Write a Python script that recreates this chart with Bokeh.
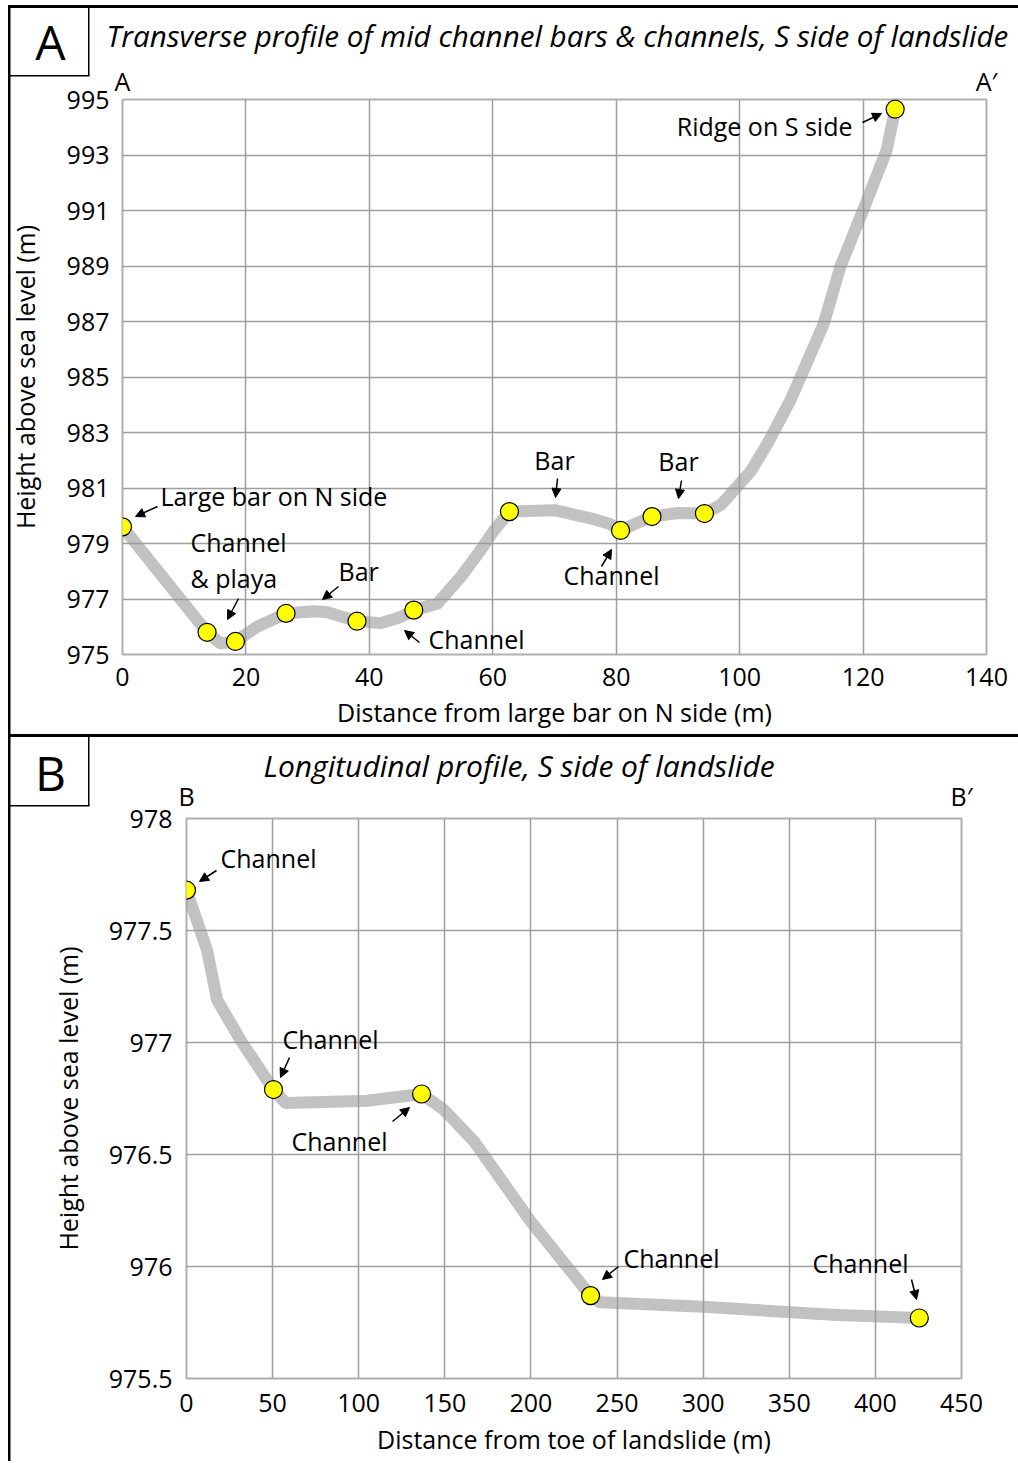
from bokeh.plotting import figure
from bokeh.models import (Label, Arrow, NormalHead, FixedTicker, Range1d, LinearAxis)
from bokeh.embed import file_html
from bokeh.resources import INLINE

FONT = "Open Sans"

# ---------------- data: panel A (transverse profile) ----------------
a_pt_x = [0, 13.7, 18.3, 26.5, 38.0, 47.2, 62.7, 80.7, 85.8, 94.3, 125.2]
a_pt_y = [979.6, 975.8, 975.47, 976.48, 976.2, 976.6, 980.15, 979.47, 979.97, 980.08, 994.65]
a_line_x = [0, 13.7, 15.9, 18.3, 21.8, 26.5, 31.0, 33.2, 38.0, 41.8, 45.0, 47.2, 51.0, 54.8,
            58.0, 60.2, 62.7, 70.0, 76.0, 79.0, 80.7, 83.0, 85.8, 90.0, 94.3, 97.0, 101.8,
            104.5, 108.2, 113.6, 116.3, 120.1, 123.8, 125.2]
a_line_y = [979.6, 975.8, 975.4, 975.47, 976.0, 976.48, 976.56, 976.52, 976.2, 976.13, 976.34,
            976.6, 976.83, 977.79, 978.75, 979.47, 980.15, 980.2, 979.9, 979.7, 979.47, 979.7,
            979.97, 980.1, 980.08, 980.4, 981.6, 982.6, 984.15, 986.9, 988.96, 991.06, 993.16, 994.65]
a_x_ticks = [0, 20, 40, 60, 80, 100, 120, 140]
a_y_ticks = [975, 977, 979, 981, 983, 985, 987, 989, 991, 993, 995]
a_y_labels = ["975", "977", "979", "981", "983", "985", "987", "989", "991", "993", "995"]
a_end_ticks = [0, 140]
a_end_labels = ["A", "A\u2032"]

# ---------------- data: panel B (longitudinal profile) ----------------
b_pt_x = [0, 50.5, 136.5, 234.6, 425.5]
b_pt_y = [977.68, 976.79, 976.77, 975.87, 975.77]
b_line_x = [0, 12.0, 17.8, 31.4, 50.5, 57.5, 104.9, 136.5, 149.4, 166.8, 200.0, 234.6,
            240.0, 300.0, 375.0, 425.5]
b_line_y = [977.68, 977.41, 977.19, 977.01, 976.79, 976.73, 976.74, 976.77, 976.70, 976.56,
            976.2, 975.87, 975.84, 975.82, 975.785, 975.77]
b_x_ticks = [0, 50, 100, 150, 200, 250, 300, 350, 400, 450]
b_y_ticks = [975.5, 976.0, 976.5, 977.0, 977.5, 978.0]
b_y_labels = ["975.5", "976", "976.5", "977", "977.5", "978"]
b_end_ticks = [0, 450]
b_end_labels = ["B", "B\u2032"]

GRID = "#9e9e9e"
FIG_W = 1018


def style_axis(ax, size="25px"):
    ax.axis_line_color = None
    ax.major_tick_line_color = None
    ax.minor_tick_line_color = None
    ax.major_tick_out = 0
    ax.major_tick_in = 0
    ax.major_label_text_font = FONT
    ax.major_label_text_font_size = size
    ax.major_label_text_color = "black"
    ax.axis_label_text_font = FONT
    ax.axis_label_text_font_size = "25px"
    ax.axis_label_text_font_style = "normal"
    ax.axis_label_text_color = "black"


def css_lines(rects):
    # rects: (x, y, w, h) black frame strokes drawn behind the transparent canvas
    return ", ".join(f"linear-gradient(#000, #000) {x}px {y}px / {w}px {h}px no-repeat"
                     for x, y, w, h in rects)


def make_fig(xr, yr, fw, fh, left, top, bottom, xt, yt, ylabels, et, elabels, e_stand,
             xlabel, ylabel, ystand, xstand, ylab_stand, xlab_stand, title, t_size, t_off,
             t_stand, frame_rects):
    p = figure(frame_width=fw, frame_height=fh, x_range=Range1d(*xr), y_range=Range1d(*yr),
               min_border_left=left, min_border_right=FIG_W - left - fw, min_border_top=top,
               min_border_bottom=bottom, output_backend="svg", toolbar_location=None,
               styles={"vertical-align": "top", "background": css_lines(frame_rects)})
    p.background_fill_color = "white"
    p.border_fill_color = None
    p.outline_line_color = "#b0b0b0"
    p.outline_line_width = 2
    p.xgrid.ticker = FixedTicker(ticks=xt)
    p.ygrid.ticker = FixedTicker(ticks=yt)
    for g in (p.xgrid, p.ygrid):
        g.grid_line_color = GRID
        g.grid_line_width = 1.5
    p.xaxis.ticker = FixedTicker(ticks=xt)
    p.yaxis.ticker = FixedTicker(ticks=yt)
    p.yaxis.major_label_overrides = {float(v): s for v, s in zip(yt, ylabels)}
    style_axis(p.xaxis[0])
    style_axis(p.yaxis[0])
    p.xaxis.axis_label = xlabel
    p.yaxis.axis_label = ylabel
    p.yaxis.major_label_standoff = ystand
    p.xaxis.major_label_standoff = xstand
    p.yaxis.axis_label_standoff = ylab_stand
    p.xaxis.axis_label_standoff = xlab_stand
    # section end markers (A / A', B / B') as an axis above the frame
    top_ax = LinearAxis(ticker=FixedTicker(ticks=et),
                        major_label_overrides={float(v): s for v, s in zip(et, elabels)})
    style_axis(top_ax)
    top_ax.major_label_standoff = e_stand
    p.add_layout(top_ax, "above")
    p.title.text = title
    p.title.text_font = FONT
    p.title.text_font_size = t_size
    p.title.text_font_style = "italic"
    p.title.text_color = "black"
    p.title.align = "left"
    p.title.offset = t_off
    p.title.standoff = t_stand
    return p


def draw_profile(p, lx, ly, px, py):
    p.line(lx, ly, line_color="#999999", line_alpha=0.6, line_width=12, line_join="round")
    p.scatter(px, py, size=18, fill_color="#ffff00", line_color="black", line_width=1.2)


def converter(ox, oy, left, top, fw, fh, xr, yr):
    def conv(px, py):
        fx = ox + left
        fy = oy + top
        return (xr[0] + (px - fx) / fw * (xr[1] - xr[0]),
                yr[1] - (py - fy) / fh * (yr[1] - yr[0]))
    return conv


def data_label(p, conv, px, py, text, align="left", size="25px", place="center"):
    x, y = conv(px, py)
    p.add_layout(Label(x=x, y=y, text=text, text_font=FONT, text_font_size=size,
                       text_align=align, text_baseline="middle", text_color="black"), place)


def data_arrow(p, conv, sx, sy, ex, ey):
    x0, y0 = conv(sx, sy)
    x1, y1 = conv(ex, ey)
    p.add_layout(Arrow(x_start=x0, y_start=y0, x_end=x1, y_end=y1, line_color="black",
                       line_width=1.5,
                       end=NormalHead(size=9, fill_color="black", line_color="black", line_width=1)))


# ---------------- panel A ----------------
A_OX, A_OY = 0, 0
A_L, A_T, A_FW, A_FH = 122, 99, 864, 555
A_H = 737
A_XR, A_YR = (0, 140), (975, 995)
a_frame = [(8, 5, 1010, 3), (8, 5, 2.5, 732), (8, 734, 1010, 3),
           (88, 5, 1.5, 71), (8, 75, 81.5, 1.5)]
p1 = make_fig(A_XR, A_YR, A_FW, A_FH, A_L, A_T, A_H - A_T - A_FH, a_x_ticks, a_y_ticks,
              a_y_labels, a_end_ticks, a_end_labels, 2,
              "Distance from large bar on N side (m)", "Height above sea level (m)",
              13, 13, 22, 6,
              "Transverse profile of mid channel bars & channels, S side of landslide",
              "29.6px", -16, 10, a_frame)
draw_profile(p1, a_line_x, a_line_y, a_pt_x, a_pt_y)
a_data = converter(A_OX, A_OY, A_L, A_T, A_FW, A_FH, A_XR, A_YR)

a_texts = [
    (160, 495, "Large bar on N side", "left"),
    (190, 541, "Channel", "left"),
    (190, 577, "& playa", "left"),
    (338, 570, "Bar", "left"),
    (428, 638, "Channel", "left"),
    (554, 459, "Bar", "center"),
    (678, 460, "Bar", "center"),
    (611, 574, "Channel", "center"),
    (852, 125, "Ridge on S side", "right"),
]
for tx, ty, t, al in a_texts:
    data_label(p1, a_data, tx, ty, t, al)
a_arrows = [
    (157, 506, 135, 516), (238, 598, 227, 619), (338, 586, 322, 599), (419, 642, 404, 630),
    (557, 478, 555, 497), (681, 480, 678, 498), (601, 566, 611, 549), (862, 122, 881, 113),
]
for a in a_arrows:
    data_arrow(p1, a_data, *a)
# panel letter (lives in the side panel so it is not clipped to the frame)
data_label(p1, a_data, 50, 41, "A", "center", "48px", "right")

# ---------------- panel B ----------------
B_OX, B_OY = 0, 737
B_L, B_T, B_FW, B_FH = 186, 81, 775, 560
B_H = 724
B_XR, B_YR = (0, 450), (975.5, 978)
b_frame = [(8, 0, 2.5, B_H), (88, 0, 1.5, 69), (8, 68, 81.5, 1.5)]
p2 = make_fig(B_XR, B_YR, B_FW, B_FH, B_L, B_T, B_H - B_T - B_FH, b_x_ticks, b_y_ticks,
              b_y_labels, b_end_ticks, b_end_labels, 6,
              "Distance from toe of landslide (m)", "Height above sea level (m)",
              14, 15, 21, 7,
              "Longitudinal profile, S side of landslide", "30px", 77, -20, b_frame)
draw_profile(p2, b_line_x, b_line_y, b_pt_x, b_pt_y)
b_data = converter(B_OX, B_OY, B_L, B_T, B_FW, B_FH, B_XR, B_YR)

b_texts = [
    (220, 857, "Channel"), (282, 1038, "Channel"), (291, 1140, "Channel"),
    (623, 1257, "Channel"), (812, 1262, "Channel"),
]
for tx, ty, t in b_texts:
    data_label(p2, b_data, tx, ty, t)
b_arrows = [
    (216, 870, 199, 881), (289, 1057, 280, 1077), (392, 1121, 409, 1107),
    (618, 1266, 602, 1279), (911, 1279, 916, 1299),
]
for a in b_arrows:
    data_arrow(p2, b_data, *a)
data_label(p2, b_data, 50, 772, "B", "center", "48px", "right")

open("out.html", "w").write(file_html([p1, p2], INLINE))
